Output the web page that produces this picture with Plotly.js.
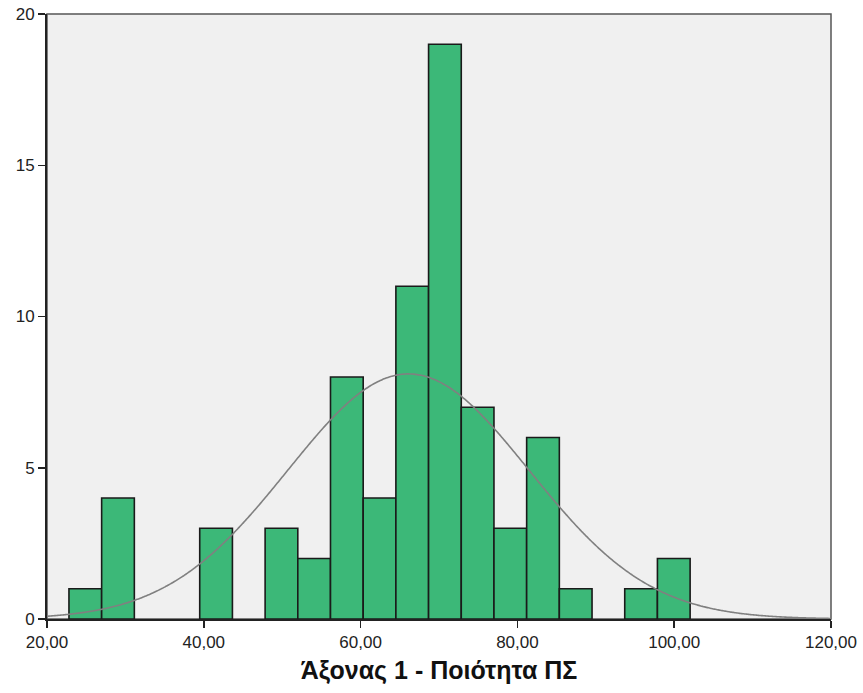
<!DOCTYPE html>
<html>
<head>
<meta charset="utf-8">
<script src="https://cdn.plot.ly/plotly-3.0.1.min.js"></script>
<style>
  html, body { margin: 0; padding: 0; background: #ffffff; }
  #chart { width: 863px; height: 693px; }
</style>
</head>
<body>
<div id="chart"></div>
<script>
// Histogram of "Άξονας 1 - Ποιότητα ΠΣ" with fitted normal curve
const binStart = 22.8;
const binWidth = 4.17;
const counts = [1, 4, 0, 0, 3, 0, 3, 2, 8, 4, 11, 19, 7, 3, 6, 1, 0, 1, 2];

// Normal fit parameters
const fitMean = 66.1;
const fitStd = 15.4;
const fitN = 75;

const xTickVals = [20, 40, 60, 80, 100, 120];
const yTickVals = [0, 5, 10, 15, 20];
const xTitle = 'Άξονας 1 - Ποιότητα ΠΣ';

// bar centres from the bin edges, skipping empty bins
const barX = [], barY = [];
counts.forEach((c, i) => {
  if (c > 0) {
    barX.push(binStart + binWidth * (i + 0.5));
    barY.push(c);
  }
});

// normal density scaled to the histogram counts
const curveX = [], curveY = [];
const scale = fitN * binWidth / (fitStd * Math.sqrt(2 * Math.PI));
for (let k = 0; k <= 400; k++) {
  const x = 20 + k * 0.25;
  const z = (x - fitMean) / fitStd;
  curveX.push(x);
  curveY.push(scale * Math.exp(-0.5 * z * z));
}

const font = 'Liberation Sans, Arial, sans-serif';

const traces = [
  {
    type: 'bar',
    x: barX,
    y: barY,
    width: binWidth,
    marker: { color: '#3cb878', line: { color: '#1a1a1a', width: 1.6 } },
    hoverinfo: 'x+y'
  },
  {
    type: 'scatter',
    mode: 'lines',
    x: curveX,
    y: curveY,
    line: { color: '#808080', width: 1.6, shape: 'spline' },
    hoverinfo: 'skip'
  }
];

const layout = {
  width: 863,
  height: 693,
  margin: { l: 47, r: 32, t: 14, b: 74 },
  paper_bgcolor: '#ffffff',
  plot_bgcolor: '#f0f0f0',
  showlegend: false,
  separators: ',.',
  font: { family: font, size: 17, color: '#222222' },
  xaxis: {
    range: [20, 120],
    tickvals: xTickVals,
    tickformat: '.2f',
    ticks: 'outside',
    ticklen: 7,
    tickwidth: 1.5,
    tickcolor: '#222222',
    showgrid: false,
    zeroline: false,
    showline: true,
    linecolor: '#222222',
    linewidth: 2,
    title: { text: xTitle, font: { family: font, size: 25, color: '#111111', weight: 'bold' }, standoff: 10 }
  },
  yaxis: {
    range: [0, 20],
    tickvals: yTickVals,
    ticks: 'outside',
    ticklen: 7,
    tickwidth: 1.5,
    tickcolor: '#222222',
    showgrid: false,
    zeroline: false,
    showline: true,
    linecolor: '#222222',
    linewidth: 2
  },
  shapes: [
    {
      type: 'rect', xref: 'paper', yref: 'paper',
      x0: 0, x1: 1, y0: 0, y1: 1,
      line: { color: '#555555', width: 1.5 },
      layer: 'below'
    }
  ]
};

Plotly.newPlot('chart', traces, layout, { staticPlot: true, displayModeBar: false });
</script>
</body>
</html>
